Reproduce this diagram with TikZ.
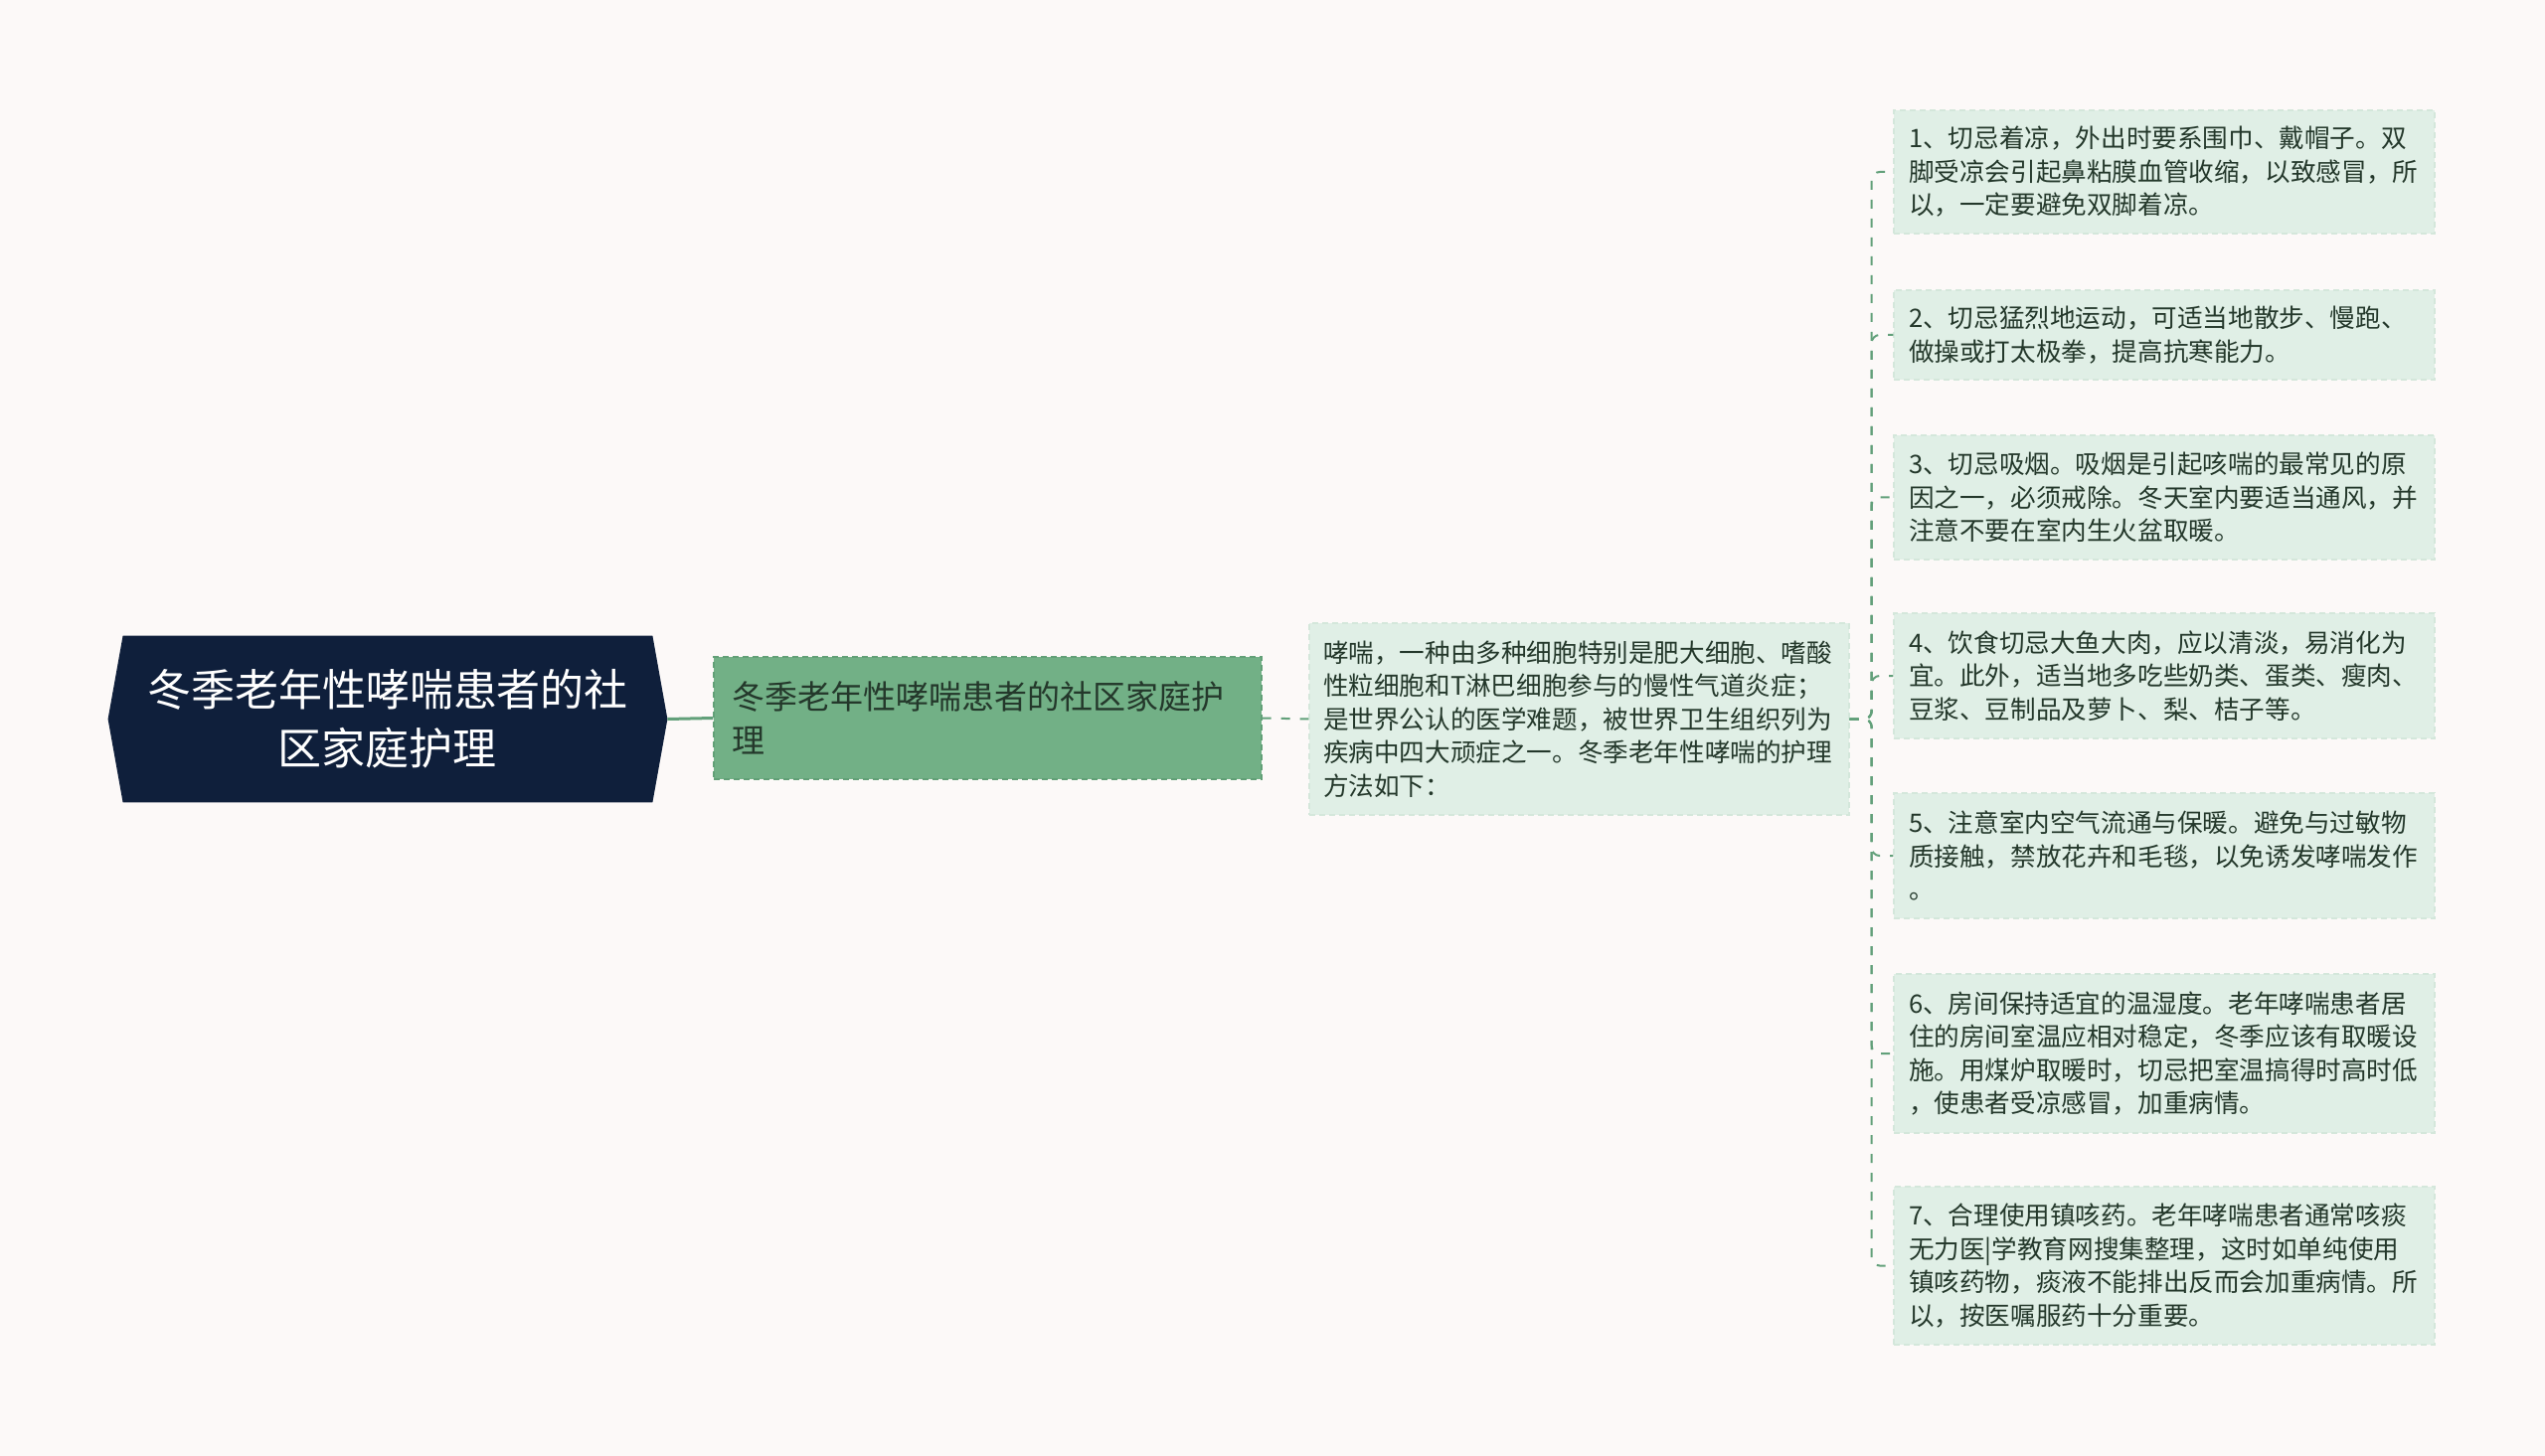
\documentclass[tikz,border=0pt]{standalone}
\usepackage{fontspec}
\newfontfamily\cjk{Noto Sans CJK SC}
\usetikzlibrary{backgrounds,calc}
\definecolor{bgc}{HTML}{FCF9F8}
\definecolor{navy}{HTML}{0F1F3B}
\definecolor{midgreen}{HTML}{72B086}
\definecolor{midedge}{HTML}{62A077}
\definecolor{palegreen}{HTML}{E0EFE6}
\definecolor{paleedge}{HTML}{D4E7DB}
\definecolor{linkgreen}{HTML}{62A07A}
\definecolor{txtdark}{HTML}{24382B}
\begin{document}
\begin{tikzpicture}[x=0.5pt,y=-0.5pt,
  rootbox/.style={minimum width=281pt,minimum height=83.5pt,inner sep=0pt,align=center,text=white,
    font=\cjk\fontsize{22pt}{29.4pt}\selectfont},
  subbox/.style={fill=midgreen,draw=midedge,dashed,dash pattern=on 3pt off 2pt,line width=0.7pt,
    text width=257.5pt,inner xsep=9pt,inner ysep=0pt,minimum height=61.5pt,align=left,text=txtdark,
    font=\cjk\fontsize{16.5pt}{22pt}\selectfont},
  descbox/.style={fill=palegreen,draw=paleedge,dashed,dash pattern=on 3pt off 2pt,line width=0.7pt,
    text width=257.5pt,inner xsep=7pt,inner ysep=0pt,minimum height=96.5pt,align=left,text=txtdark,
    font=\cjk\fontsize{12.8pt}{16.75pt}\selectfont},
  leafbox/.style={fill=palegreen,draw=paleedge,dashed,dash pattern=on 3pt off 2pt,line width=0.7pt,
    text width=257pt,inner xsep=7.5pt,inner ysep=0pt,align=left,text=txtdark,
    font=\cjk\fontsize{12.8pt}{16.75pt}\selectfont},
  mainlink/.style={draw=linkgreen,line width=1.5pt},
  dashlink/.style={draw=linkgreen,line width=1pt,dash pattern=on 4.5pt off 5pt,rounded corners=4pt}]
\useasboundingbox (0,0) rectangle (2560,1465);

\node[rootbox] (root) at (390,723.5) {冬季老年性哮喘患者的社\\区家庭护理};
\node[subbox] (l1) at (993.5,722.5) {冬季老年性哮喘患者的社区家庭护\\理};
\node[descbox] (l2) at (1588.5,723.5) {哮喘，一种由多种细胞特别是肥大细胞、嗜酸\\性粒细胞和T淋巴细胞参与的慢性气道炎症；\\是世界公认的医学难题，被世界卫生组织列为\\疾病中四大顽症之一。冬季老年性哮喘的护理\\方法如下：};

\node[leafbox,minimum height=62pt] (k1) at (2177,173) {1、切忌着凉，外出时要系围巾、戴帽子。双\\脚受凉会引起鼻粘膜血管收缩，以致感冒，所\\以，一定要避免双脚着凉。};
\node[leafbox,minimum height=45pt] (k2) at (2177,337) {2、切忌猛烈地运动，可适当地散步、慢跑、\\做操或打太极拳，提高抗寒能力。};
\node[leafbox,minimum height=62.5pt] (k3) at (2177,500.5) {3、切忌吸烟。吸烟是引起咳喘的最常见的原\\因之一，必须戒除。冬天室内要适当通风，并\\注意不要在室内生火盆取暖。};
\node[leafbox,minimum height=63pt] (k4) at (2177,680) {4、饮食切忌大鱼大肉，应以清淡，易消化为\\宜。此外，适当地多吃些奶类、蛋类、瘦肉、\\豆浆、豆制品及萝卜、梨、桔子等。};
\node[leafbox,minimum height=63pt] (k5) at (2177,861) {5、注意室内空气流通与保暖。避免与过敏物\\质接触，禁放花卉和毛毯，以免诱发哮喘发作\\。};
\node[leafbox,minimum height=80pt] (k6) at (2177,1060) {6、房间保持适宜的温湿度。老年哮喘患者居\\住的房间室温应相对稳定，冬季应该有取暖设\\施。用煤炉取暖时，切忌把室温搞得时高时低\\，使患者受凉感冒，加重病情。};
\node[leafbox,minimum height=79.5pt] (k7) at (2177,1273.5) {7、合理使用镇咳药。老年哮喘患者通常咳痰\\无力医|学教育网搜集整理，这时如单纯使用\\镇咳药物，痰液不能排出反而会加重病情。所\\以，按医嘱服药十分重要。};

\begin{scope}[on background layer]
\fill[bgc] (0,0) rectangle (2560,1465);
\fill[navy] (root.west) -- ([xshift=7.5pt]root.north west) -- ([xshift=-7.5pt]root.north east)
  -- (root.east) -- ([xshift=-7.5pt]root.south east) -- ([xshift=7.5pt]root.south west) -- cycle;
\end{scope}

\draw[mainlink] (root.east) -- (l1.west);
\draw[dashlink] (l1.east) -- (l2.west);
\foreach \k in {1,...,7}{
  \draw[dashlink] (l2.east) -- ++(22,0) |- (k\k.west);
}
\end{tikzpicture}
\end{document}
